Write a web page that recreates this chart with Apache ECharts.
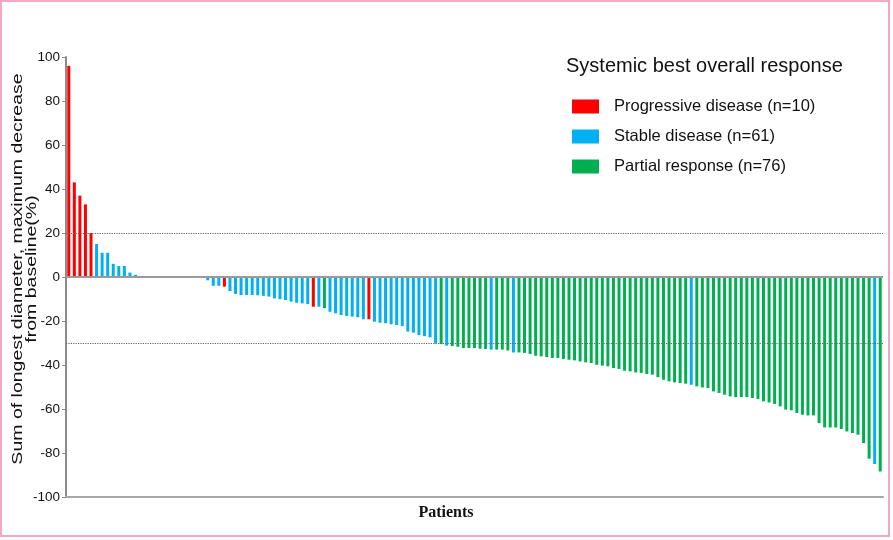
<!DOCTYPE html>
<html>
<head>
<meta charset="utf-8">
<script src="https://cdn.jsdelivr.net/npm/echarts@6/dist/echarts.min.js"></script>
<style>
html,body{margin:0;padding:0;background:#fff;}
#c{width:893px;height:540px;}
</style>
</head>
<body>
<div id="c"></div>
<script>
// ---- data ----
// response codes: P = progressive disease, S = stable disease, R = partial response
const responseKeys   = ['P', 'S', 'R'];
const responseNames  = ['Progressive disease (n=10)', 'Stable disease (n=61)', 'Partial response (n=76)'];
const responseColors = ['#ff0000', '#00b0f0', '#00b050'];

const growthValues = [96, 43, 37, 33, 20, 15, 11, 11, 6, 5, 5, 2, 1];
const growthRuns   = [['P', 5], ['S', 8]];

const flatValues = [0, 0, 0, 0, 0, 0, 0, 0, 0, 0, 0, 0];
const flatRuns   = [['P', 2], ['S', 10]];

const shrinkValuesA = [-1.5, -4, -4, -4.4, -6.4, -7.7, -8.2, -8.2, -8.2, -8.3, -8.6, -8.9, -9.7, -10.1, -10.5,
  -11.2, -11.7, -12, -12.3, -13.5, -13.5, -14.2, -15.8, -16.5, -17.3, -17.7, -18, -18.3, -19.2, -19.2,
  -20.3, -20.8, -21, -21.5, -21.8, -22.3, -24.8, -25.3, -26.4, -26.9, -27.4, -30.2, -30.5];
const shrinkRunsA = [['S', 3], ['P', 1], ['S', 15], ['P', 1], ['S', 1], ['R', 1], ['S', 7], ['P', 1], ['S', 12], ['R', 1]];

const shrinkValuesB = [-31.2, -31.4, -31.7, -32.3, -32.3, -32.3, -32.6, -32.7, -33, -33, -33, -33.4, -34.3, -34.3,
  -34.5, -35, -35.8, -36.1, -36.4, -36.8, -36.8, -37.3, -37.6, -37.9, -38.4, -38.8, -39.1, -39.9, -40.3,
  -40.6, -41.4, -41.8, -42.6, -42.9, -43.4];
const shrinkRunsB = [['S', 1], ['R', 7], ['S', 1], ['R', 3], ['S', 1], ['R', 22]];

const shrinkValuesC = [-43.6, -44.1, -44.4, -45.5, -46.7, -47.4, -47.9, -48.2, -48.5, -49, -49.7, -50.2, -50.5,
  -52, -52.7, -53.5, -54.3, -54.6, -54.6, -54.6, -55, -55.5, -56.5, -57, -57.7, -58.8, -60.3, -60.6, -61.8,
  -62.6, -62.9, -62.9, -66.4, -68.4, -68.4, -68.4, -69.1, -70.2, -70.9, -71.7, -75.5, -82.6, -85, -88.4];
const shrinkRunsC = [['R', 9], ['S', 1], ['R', 32], ['S', 1], ['R', 1]];

const yTicks = { min: -100, max: 100, step: 20 };
const referenceLines = [20, -30];

// ---- build ----
const expand = runs => runs.flatMap(([c, n]) => Array(n).fill(c));
const values = [...growthValues, ...flatValues, ...shrinkValuesA, ...shrinkValuesB, ...shrinkValuesC];
const groups = [...expand(growthRuns), ...expand(flatRuns), ...expand(shrinkRunsA), ...expand(shrinkRunsB), ...expand(shrinkRunsC)];
const patients = values.map((_, i) => 'Patient ' + (i + 1));

const FONT = '"Liberation Sans", Arial, sans-serif';

const series = responseKeys.map((k, idx) => {
  const s = {
    name: responseNames[idx],
    type: 'bar',
    barWidth: 3,
    barGap: '-100%',
    itemStyle: { color: responseColors[idx] },
    data: values.map((v, i) => (groups[i] === k ? v : '-')),
    animation: false
  };
  if (idx === 0) {
    s.markLine = {
      silent: true,
      symbol: ['none', 'none'],
      label: { show: false },
      animation: false,
      data: [
        { yAxis: 0, lineStyle: { type: 'solid', color: '#9a9a9a', width: 2 } },
        ...referenceLines.map(v => ({ yAxis: v, lineStyle: { type: 'dotted', color: '#666', width: 1.2 } }))
      ]
    };
  }
  return s;
});

const chart = echarts.init(document.getElementById('c'));
chart.setOption({
  animation: false,
  backgroundColor: '#fff',
  grid: { left: 66, right: 10, top: 57, bottom: 43 },
  title: {
    text: 'Systemic best overall response',
    left: 561, top: 51,
    textStyle: { fontFamily: FONT, fontSize: 20, fontWeight: 'normal', color: '#111' }
  },
  legend: {
    orient: 'vertical',
    left: 567, top: 93,
    icon: 'rect',
    itemWidth: 27, itemHeight: 14, itemGap: 13,
    data: responseNames,
    textStyle: { fontFamily: FONT, fontSize: 16.5, color: '#111', lineHeight: 14, padding: [0, 0, 0, 10] }
  },
  xAxis: {
    type: 'category',
    data: patients,
    axisLine: { onZero: false, lineStyle: { color: '#a8a8a8', width: 2 } },
    axisTick: { show: false },
    axisLabel: { show: false }
  },
  yAxis: {
    type: 'value',
    min: yTicks.min, max: yTicks.max, interval: yTicks.step,
    axisLine: { show: true, lineStyle: { color: '#8c8c8c', width: 2 } },
    axisTick: { show: true, length: 4, lineStyle: { color: '#8c8c8c' } },
    splitLine: { show: false },
    axisLabel: { fontFamily: FONT, fontSize: 13.5, color: '#111', margin: 6 }
  },
  graphic: [
    { type: 'rect', silent: true, z: 100,
      shape: { x: 1, y: 1, width: 888, height: 535 },
      style: { fill: 'none', stroke: '#f2a7c5', lineWidth: 2 } },
    { type: 'text', silent: true, x: 25, y: 269, rotation: Math.PI / 2, scaleY: 0.72,
      style: { text: 'Sum of longest diameter, maximum decrease\nfrom baseline(%)',
        fontFamily: FONT, fontSize: 19.5, lineHeight: 19.5, fill: '#111',
        align: 'center', verticalAlign: 'middle' } },
    { type: 'text', silent: true, x: 446, y: 513,
      style: { text: 'Patients', fontFamily: '"Liberation Serif", "Times New Roman", serif',
        fontWeight: 'bold', fontSize: 16, fill: '#111', align: 'center', verticalAlign: 'middle' } }
  ],
  series: series
});
</script>
</body>
</html>
